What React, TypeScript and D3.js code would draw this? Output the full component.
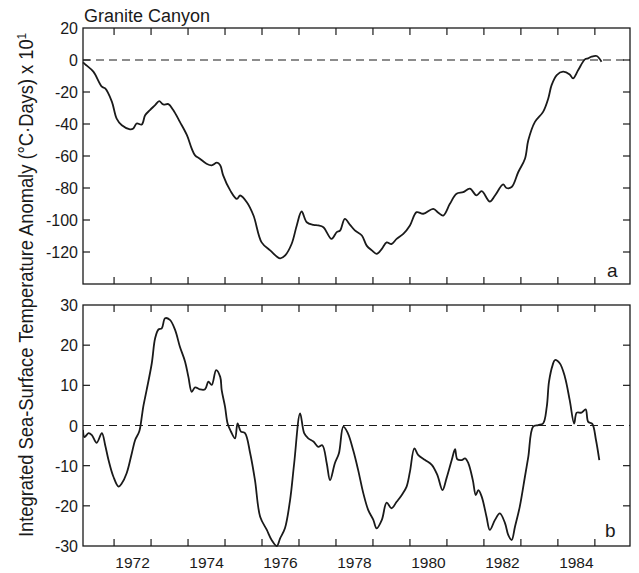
import React from "react";
import * as d3 from "d3";

// Panel a: integrated SST anomaly (x10), Granite Canyon
const topYears = [
  1971.16, 1971.22, 1971.44, 1971.67, 1971.76, 1971.94, 1972.07, 1972.21, 1972.43, 1972.52,
  1972.61, 1972.75, 1972.84, 1972.97, 1973.11, 1973.22, 1973.33, 1973.47, 1973.6, 1973.78,
  1973.97, 1974.1, 1974.19, 1974.32, 1974.5, 1974.64, 1974.78, 1974.87, 1974.95, 1975.14,
  1975.32, 1975.41, 1975.59, 1975.77, 1975.99, 1976.22, 1976.49, 1976.62, 1976.8, 1976.94,
  1977.07, 1977.21, 1977.39, 1977.52, 1977.66, 1977.88, 1978.02, 1978.11, 1978.24, 1978.38,
  1978.51, 1978.7, 1978.83, 1978.97, 1979.1, 1979.24, 1979.37, 1979.5, 1979.64, 1979.82,
  1980.0, 1980.18, 1980.36, 1980.63, 1980.77, 1980.9, 1981.08, 1981.26, 1981.44, 1981.62,
  1981.8, 1981.94, 1982.16, 1982.3, 1982.52, 1982.61, 1982.75, 1982.93, 1983.11, 1983.2,
  1983.38, 1983.6, 1983.74, 1983.83, 1983.97, 1984.14, 1984.32, 1984.41, 1984.55, 1984.73,
  1984.82, 1984.91, 1985.05, 1985.18,
];
const topValues = [
  -1.5, -2.7, -7.3, -16.7, -17.8, -26, -36.6, -40.8, -43.3, -42.8,
  -39.7, -40.3, -34.5, -31.3, -28.2, -25.7, -27.8, -27.6, -31.3, -38.7,
  -47, -55.4, -59.6, -61.7, -64.8, -65.8, -64.2, -65.8, -72.1, -81.5,
  -86.8, -84.7, -88.9, -97.2, -114, -119, -124, -122.3, -115, -103.4,
  -94.7, -101.4, -103, -103.4, -104.5, -111.8, -107.6, -106.6, -99.3, -103,
  -106.5, -109.7, -116, -119, -121.2, -118, -114, -115, -111.8, -108.7,
  -103.4, -95.1, -96.1, -93, -95.5, -97.2, -89.9, -83.6, -82.6, -80.4,
  -84.6, -82, -88.5, -84.7, -77.7, -80, -79.4, -70, -61.7, -50.2,
  -38.7, -32.4, -24, -15.7, -9.4, -7.3, -9, -11.5, -6.3, 0.4,
  1.0, 2.1, 2.5, -1.1,
];

// Panel b
const botYears = [
  1971.16, 1971.2, 1971.31, 1971.4, 1971.53, 1971.67, 1971.76, 1971.85, 1971.98, 1972.12,
  1972.21, 1972.34, 1972.48, 1972.57, 1972.68, 1972.75, 1972.79, 1972.88, 1973.02, 1973.11,
  1973.2, 1973.29, 1973.38, 1973.51, 1973.65, 1973.78, 1973.92, 1974.01, 1974.1, 1974.19,
  1974.32, 1974.46, 1974.55, 1974.64, 1974.76, 1974.87, 1974.91, 1975.0, 1975.07, 1975.16,
  1975.27, 1975.34, 1975.43, 1975.54, 1975.68, 1975.81, 1975.95, 1976.13, 1976.26, 1976.4,
  1976.49, 1976.62, 1976.76, 1976.87, 1977.03, 1977.14, 1977.25, 1977.39, 1977.52, 1977.63,
  1977.75, 1977.84, 1977.97, 1978.08, 1978.2, 1978.32, 1978.47, 1978.6, 1978.74, 1978.87,
  1979.01, 1979.1, 1979.24, 1979.37, 1979.5, 1979.64, 1979.78, 1979.91, 1980.0, 1980.12,
  1980.22, 1980.41, 1980.59, 1980.74, 1980.88, 1980.99, 1981.13, 1981.22, 1981.28, 1981.4,
  1981.49, 1981.58, 1981.7, 1981.78, 1981.85, 1981.94, 1982.07, 1982.16, 1982.3, 1982.43,
  1982.57, 1982.66, 1982.75, 1982.84, 1982.97, 1983.11, 1983.2, 1983.33, 1983.47, 1983.6,
  1983.7, 1983.76, 1983.86, 1983.92, 1984.05, 1984.19, 1984.32, 1984.44, 1984.51, 1984.64,
  1984.75, 1984.82, 1984.93, 1985.03, 1985.12,
];
const botValues = [
  -1.1, -2.9, -1.9, -2.4, -4.3, -1.9, -4.9, -8.6, -12.7, -15.2,
  -14.4, -11.9, -6.9, -3.6, -1.5, 2.2, 4.7, 8.8, 15.5, 21.7,
  23.9, 24.2, 26.7, 26.3, 23.8, 19.6, 15.9, 12.1, 8.4, 9.5,
  9, 9, 10.9, 10.1, 13.8, 12.1, 8.8, 4.7, 0.5, -1.5,
  -3.2, 0.5, -1.5, -1.9, -6.9, -13.6, -22.7, -26, -28.5, -30,
  -28.1, -25.6, -18.5, -9.4, 3.0, -1.9, -3.2, -4, -5.3, -4.9,
  -9.4, -13.6, -9.4, -6.9, -0.3, -1.9, -6.3, -11.1, -16.9, -21,
  -23.5, -25.6, -23.5, -19.2, -20.6, -19, -17.3, -15.2, -11.5, -5.7,
  -7.3, -8.6, -9.8, -12.3, -16.1, -13.1, -8.6, -5.9, -8.4, -8.6,
  -8.2, -9.4, -13.6, -17.3, -16.1, -17.7, -22.7, -26, -23.5, -21.9,
  -24.3, -27.3, -28.5, -25.2, -20.2, -12.7, -7.8, -0.3, 0.1, 0.5,
  4.7, 10.9, 15.1, 16.3, 15.5, 12.1, 6.3, 0.5, 3.2, 3.2,
  4.0, 0.9, 0.4, -3.6, -8.6,
];

const yearTicks = [1972, 1973, 1974, 1975, 1976, 1977, 1978, 1979, 1980, 1981, 1982, 1983, 1984, 1985];
const yearLabels = [1972, 1974, 1976, 1978, 1980, 1982, 1984];
const topTicks = [20, 0, -20, -40, -60, -80, -100, -120];
const topTickMarks = [0, -20, -40, -60, -80, -100, -120];
const botTicks = [30, 20, 10, 0, -10, -20, -30];
const botTickMarks = [20, 10, -10, -20];

const W = 639;
const H = 573;
const L = 83;
const R = 630;
const topT = 28, topB = 284;
const botT = 305, botB = 546;
const font = "'Liberation Sans', Arial, Helvetica, sans-serif";
const ink = "#1a1a1a";

export default function App() {
  const x = d3.scaleLinear().domain([1971.16, 1985.95]).range([L, R]);
  const yTop = d3.scaleLinear().domain([-140, 20]).range([topB, topT]);
  const yBot = d3.scaleLinear().domain([-30, 30]).range([botB, botT]);

  const topData = topYears.map((yr, i) => [yr, topValues[i]] as [number, number]);
  const botData = botYears.map((yr, i) => [yr, botValues[i]] as [number, number]);

  const lineTop = d3.line<[number, number]>().x(d => x(d[0])).y(d => yTop(d[1])).curve(d3.curveCatmullRom.alpha(0.5));
  const lineBot = d3.line<[number, number]>().x(d => x(d[0])).y(d => yBot(d[1])).curve(d3.curveCatmullRom.alpha(0.5));

  const tickLen = 7;

  const panelFrame = (t: number, b: number) => (
    <rect x={L} y={t} width={R - L} height={b - t} fill="none" stroke={ink} strokeWidth={1.3} />
  );

  const xTicks = (t: number, b: number, key: string) =>
    yearTicks.map(yr => (
      <g key={key + yr}>
        <line x1={x(yr)} x2={x(yr)} y1={t} y2={t + tickLen} stroke={ink} strokeWidth={1.2} />
        <line x1={x(yr)} x2={x(yr)} y1={b} y2={b - tickLen} stroke={ink} strokeWidth={1.2} />
      </g>
    ));

  return (
    <svg width={W} height={H} style={{ position: "absolute", left: 0, top: 0, background: "#fff" }}>
      <defs>
        <clipPath id="clipBot">
          <rect x={L} y={botT} width={R - L} height={botB - botT + 1} />
        </clipPath>
      </defs>
      <rect x={0} y={0} width={W} height={H} fill="#fff" />

      {/* Title */}
      <text x={84} y={22} fontFamily={font} fontSize={18} fill={ink} textLength={126} lengthAdjust="spacingAndGlyphs">Granite Canyon</text>

      {/* Y axis label */}
      <text
        transform={`translate(33,285) rotate(-90)`}
        textAnchor="middle"
        fontFamily={font}
        fontSize={19.5}
        fill={ink}
        textLength={504}
        lengthAdjust="spacingAndGlyphs"
      >
        Integrated Sea-Surface Temperature Anomaly (°C·Days) x 10<tspan dy={-7} fontSize={12}>1</tspan>
      </text>

      {/* Panel a */}
      {panelFrame(topT, topB)}
      {xTicks(topT, topB, "t")}
      {topTickMarks.map(v => (
        <g key={"ta" + v}>
          <line x1={L} x2={L + tickLen} y1={yTop(v)} y2={yTop(v)} stroke={ink} strokeWidth={1.2} />
          <line x1={R} x2={R - tickLen} y1={yTop(v)} y2={yTop(v)} stroke={ink} strokeWidth={1.2} />
        </g>
      ))}
      {topTicks.map(v => (
        <text key={"tl" + v} x={78} y={yTop(v) + 6} textAnchor="end" fontFamily={font} fontSize={16} fill={ink}>
          {v}
        </text>
      ))}
      <line x1={L} x2={R} y1={yTop(0)} y2={yTop(0)} stroke={ink} strokeWidth={1.2} strokeDasharray="8,5" />
      <path d={lineTop(topData) || ""} fill="none" stroke={ink} strokeWidth={1.8} />
      <text x={607} y={277} fontFamily={font} fontSize={19} fill={ink}>a</text>

      {/* Panel b */}
      {panelFrame(botT, botB)}
      {xTicks(botT, botB, "b")}
      {botTickMarks.map(v => (
        <g key={"ba" + v}>
          <line x1={L} x2={L + tickLen} y1={yBot(v)} y2={yBot(v)} stroke={ink} strokeWidth={1.2} />
          <line x1={R} x2={R - tickLen} y1={yBot(v)} y2={yBot(v)} stroke={ink} strokeWidth={1.2} />
        </g>
      ))}
      {botTicks.map(v => (
        <text key={"bl" + v} x={78} y={yBot(v) + 6} textAnchor="end" fontFamily={font} fontSize={16} fill={ink}>
          {v}
        </text>
      ))}
      <line x1={L} x2={R} y1={yBot(0)} y2={yBot(0)} stroke={ink} strokeWidth={1.2} strokeDasharray="8,5" />
      <path d={lineBot(botData) || ""} fill="none" stroke={ink} strokeWidth={1.8} clipPath="url(#clipBot)" />
      <text x={605} y={537} fontFamily={font} fontSize={19} fill={ink}>b</text>

      {yearLabels.map(yr => (
        <text key={"xl" + yr} x={x(yr + 0.5)} y={568} textAnchor="middle" fontFamily={font} fontSize={15.5} fill={ink}>
          {yr}
        </text>
      ))}
    </svg>
  );
}
